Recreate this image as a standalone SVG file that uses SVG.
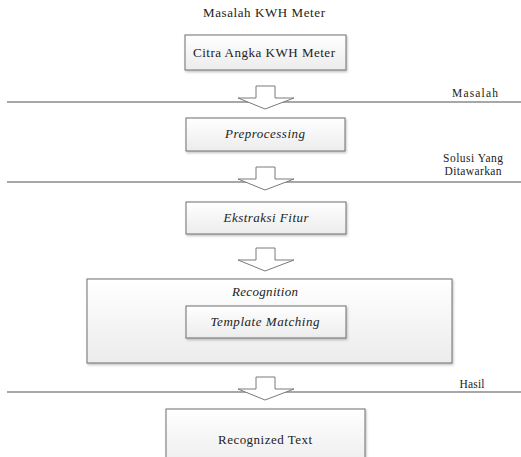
<svg xmlns="http://www.w3.org/2000/svg" width="521" height="457" viewBox="0 0 521 457">
<style>
.bx{fill:url(#g);stroke:#6e6e6e;stroke-width:1;filter:url(#sh)}
.t{font-size:13px;fill:#222;text-anchor:middle}
.i{font-style:italic}
.lbl{font-size:11.5px;fill:#222;text-anchor:middle}
.ln{stroke:#8a8a8a;stroke-width:1.5;fill:none}
.ar{fill:#fff;stroke:#7a7a7a;stroke-width:1}
</style>
<defs>
<linearGradient id="g" x1="0" y1="0" x2="0" y2="1">
<stop offset="0" stop-color="#ffffff"/>
<stop offset="1" stop-color="#ececec"/>
</linearGradient>
<filter id="sh" x="-10%" y="-10%" width="120%" height="130%">
<feDropShadow dx="1" dy="1.5" stdDeviation="1" flood-color="#000" flood-opacity="0.25"/>
</filter>
<polygon id="arr" points="256,0 275,0 275,12 294,12 265,23 238,12 256,12"/>
</defs>
<rect width="521" height="457" fill="#fff"/>
<g font-family="Liberation Serif, Times New Roman, DejaVu Serif, serif">
<text class="t" x="264" y="17" textLength="122">Masalah KWH Meter</text>
<g id="connectors">
<line class="ln" x1="7" y1="102" x2="521" y2="102"/>
<line class="ln" x1="7" y1="182" x2="521" y2="182"/>
<line class="ln" x1="7" y1="392" x2="521" y2="392"/>
<use href="#arr" class="ar" y="86"/>
<use href="#arr" class="ar" y="167"/>
<use href="#arr" class="ar" y="248"/>
<use href="#arr" class="ar" y="377"/>
</g>
<g id="labels">
<text class="lbl" x="475" y="97" textLength="46">Masalah</text>
<text class="lbl" x="473" y="162" textLength="60">Solusi Yang</text>
<text class="lbl" x="473" y="175" textLength="57">Ditawarkan</text>
<text class="lbl" x="472" y="388" textLength="25">Hasil</text>
</g>
<g id="citra">
<rect class="bx" x="185" y="35" width="161" height="35"/>
<text class="t" x="264" y="57" textLength="142">Citra Angka KWH Meter</text>
</g>
<g id="preprocessing">
<rect class="bx" x="186" y="118" width="159" height="33"/>
<text class="t i" x="265" y="138" textLength="80">Preprocessing</text>
</g>
<g id="ekstraksi">
<rect class="bx" x="186" y="202" width="160" height="32"/>
<text class="t i" x="266" y="222" textLength="85">Ekstraksi Fitur</text>
</g>
<g id="recognition">
<rect class="bx" x="87" y="279" width="365" height="84"/>
<text class="t i" x="265" y="296" textLength="66">Recognition</text>
</g>
<g id="template">
<rect class="bx" x="186" y="306" width="160" height="32"/>
<text class="t i" x="265" y="326" textLength="109">Template Matching</text>
</g>
<g id="recognized">
<rect class="bx" x="166" y="409" width="199" height="60"/>
<text class="t" x="265" y="444" textLength="94">Recognized Text</text>
</g>
</g>
</svg>
